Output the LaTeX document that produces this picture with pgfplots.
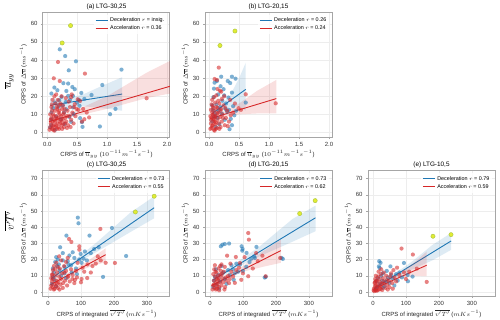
\documentclass[border=0pt]{standalone}
\usepackage{pgfplots}
\pgfplotsset{compat=1.18}
\usepackage{fontspec}
\setmainfont{Liberation Sans}
\definecolor{tabblue}{HTML}{1F77B4}
\definecolor{tabred}{HTML}{D62728}
\definecolor{ylw}{RGB}{226,236,50}
\definecolor{ylwedge}{RGB}{175,200,70}
\pgfplotsset{
  panel/.style={scale only axis, width=127pt, height=125pt,
    grid=major, grid style={gray!14, line width=0.4pt},
    axis line style={gray!70, line width=1pt},
    tick style={gray!70, line width=0.5pt},
    tick align=outside, major tick length=2pt,
    xtick pos=bottom, ytick pos=left,
    /pgf/number format/assume math mode=true,
    tick label style={font=\fontsize{6}{7}\selectfont, text=black!80},
    label style={font=\fontsize{6}{7}\selectfont, text=black!85},
    title style={font=\fontsize{6.4}{7}\selectfont, yshift=-7pt},
    xlabel style={yshift=3pt},
    ylabel style={yshift=-3pt},
    legend style={draw=none, fill=white, fill opacity=0.8, text opacity=1,
      font=\fontsize{5.4}{6}\selectfont, at={(0.98,0.98)}, anchor=north east,
      row sep=-1.5pt, inner sep=1pt},
    legend cell align=left,
    legend image code/.code={\draw[##1, line width=0.9pt] (0pt,0pt) -- (12pt,0pt);},
  },
  toprow/.style={panel, xmin=-0.07, xmax=2.05, ymin=-2.5, ymax=66.5,
    xtick={0,0.5,1,1.5,2}, xticklabels={0.0,0.5,1.0,1.5,2.0},
    ytick={0,10,...,60},
    xlabel={CRPS of $\overline{u}_{yy}$ ($10^{-11} m^{-1} s^{-1}$)},
    ylabel={CRPS of $\Delta\overline{u}$ ($ms^{-1}$)}},
  botrow/.style={panel, height=125.5pt, xmin=-15, xmax=370, ymin=-2.5, ymax=75,
    xtick={0,100,200,300}, ytick={0,10,...,70},
    xlabel={CRPS of integrated $\overline{v'T'}$ ($mKs^{-1}$)},
    ylabel={CRPS of $\Delta\overline{u}$ ($ms^{-1}$)}},
  bpt/.style={only marks, mark=*, mark size=2.1pt, color=tabblue, mark options={fill=tabblue, draw=tabblue, fill opacity=0.58, draw opacity=0}, forget plot},
  rpt/.style={only marks, mark=*, mark size=2.1pt, color=tabred, mark options={fill=tabred, draw=tabred, fill opacity=0.58, draw opacity=0}, forget plot},
  ypt/.style={only marks, mark=*, mark size=2.1pt, color=ylwedge, mark options={draw=ylwedge, fill=ylw, line width=0.5pt}, forget plot},
  bband/.style={fill=tabblue, fill opacity=0.15, draw=none, forget plot},
  rband/.style={fill=tabred, fill opacity=0.15, draw=none, forget plot},
  bline/.style={tabblue, line width=0.9pt, mark=none},
  rline/.style={tabred, line width=0.9pt, mark=none},
}
\begin{document}
\begin{tikzpicture}[x=1pt,y=1pt]
\useasboundingbox (0,0) rectangle (500,319);
\node[rotate=90, font=\fontsize{10.5}{11}\selectfont] at (9,238) {$\overline{u}_{yy}$};
\node[rotate=90, font=\fontsize{10.5}{11}\selectfont] at (9,98) {$\overline{v'T'}$};

% ---------------- (a)
\begin{axis}[toprow, at={(43pt,182pt)}, anchor=south west, title={(a) LTG-30,25}]
\addplot[bpt] table {
0.21 45.9
0.30 42.2
0.48 39.3
0.36 34.3
1.24 34.7
0.92 26.2
0.35 27.0
0.27 27.2
0.12 24.8
0.17 23.3
0.42 25.1
0.07 21.5
0.32 22.9
0.57 21.8
0.74 20.7
0.43 20.2
0.24 19.6
0.38 18.0
0.53 18.0
0.50 16.5
1.14 13.0
1.05 10.1
0.88 3.3
0.59 3.1
0.58 5.7
0.43 13.8
0.37 8.6
0.28 11.0
0.07 11.0
0.13 16.5
0.15 8.8
0.23 7.3
0.40 5.9
0.05 2.8
0.07 4.0
0.32 12.8
0.19 14.3
0.35 20.2
0.46 23.9
0.54 14.7
0.29 4.6
0.13 1.5
0.55 7.9
0.26 15.0
0.07 7.3
0.62 18.5
0.20 17.8
0.10 13.5
0.44 10.2
0.31 16.8
};
\addplot[bband] coordinates {(0.05,19.0) (0.3,18.5) (0.6,21) (0.9,25.5) (1.25,30.5) (1.25,12.0) (0.9,13.5) (0.6,14.5) (0.3,14.0) (0.05,11.4)} -- cycle;
\addplot[bline] coordinates {(0.05,15.0) (1.25,21.2)};
\addlegendentry{Deceleration $r$ = insig.}
\addplot[rpt] table {
0.18 38.9
0.11 29.9
0.63 32.5
0.21 28.4
1.66 18.9
0.70 8.3
0.62 7.3
0.52 12.5
0.55 17.4
0.46 15.6
0.51 18.3
0.40 19.5
0.05 3.0
0.06 5.0
0.07 8.0
0.08 2.0
0.09 6.0
0.10 10.0
0.11 4.0
0.12 7.0
0.13 12.0
0.14 3.0
0.15 9.0
0.16 14.0
0.17 5.0
0.18 8.0
0.19 11.0
0.20 2.0
0.21 6.0
0.22 16.0
0.23 9.0
0.24 4.0
0.25 13.0
0.26 7.0
0.27 10.0
0.28 3.0
0.30 8.0
0.31 19.0
0.32 6.0
0.34 12.0
0.35 4.0
0.37 9.0
0.38 14.0
0.40 7.0
0.42 11.0
0.44 5.0
0.47 9.0
0.49 13.0
0.05 10.0
0.07 14.0
0.09 18.0
0.10 1.5
0.12 20.0
0.14 16.0
0.16 2.0
0.18 18.0
0.20 12.0
0.22 5.0
0.24 20.0
0.26 15.0
0.28 11.0
0.30 5.0
0.33 9.0
0.36 17.0
0.39 3.0
0.41 21.0
0.45 14.0
0.58 6.0
0.60 13.0
0.66 11.0
0.06 7.0
0.08 12.0
0.11 9.0
0.13 6.0
0.15 4.0
0.17 13.0
0.19 3.0
0.21 10.0
0.23 7.0
0.25 2.0
0.27 5.0
0.29 13.0
0.04 1.5
0.09 3.5
0.12 1.0
0.16 7.5
0.20 15.0
0.08 15.5
0.15 21.0
0.33 2.5
};
\addplot[rband] coordinates {(0.03,8.0) (0.25,9.5) (0.5,12.5) (1.0,20) (1.66,33) (2.05,39.5) (2.05,21.5) (1.66,19) (1.0,13) (0.5,9.2) (0.25,7.5) (0.03,4.0)} -- cycle;
\addplot[rline] coordinates {(0.03,6.0) (2.05,25.5)};
\addlegendentry{Acceleration $r$ = 0.36}
\addplot[ypt] coordinates {(0.39,59.0) (0.25,49.4)};
\end{axis}

% ---------------- (b)
\begin{axis}[toprow, at={(205pt,182pt)}, anchor=south west, title={(b) LTG-20,15}]
\addplot[bpt] table {
0.38 30.8
0.44 29.7
0.09 27.5
0.13 28.4
0.20 30.8
0.35 27.3
0.31 28.4
0.08 24.2
0.24 23.9
0.38 22.0
0.61 16.5
0.32 19.3
0.38 4.0
0.34 1.8
0.05 15.0
0.12 15.5
0.18 14.0
0.27 13.0
0.22 17.5
0.15 21.0
0.07 19.5
0.30 11.5
0.42 9.5
0.26 7.0
0.10 10.0
0.05 6.0
0.17 4.5
0.45 12.0
0.28 16.0
0.06 12.5
0.14 8.0
0.21 10.5
0.36 7.5
0.11 3.0
0.25 20.5
0.40 14.5
0.19 25.5
0.33 12.5
0.08 8.5
0.16 12.0
};
\addplot[bband] coordinates {(0.05,13.5) (0.2,15.0) (0.35,20.5) (0.5,30) (0.61,38.5) (0.61,12.0) (0.5,14.5) (0.35,14.0) (0.2,12.0) (0.05,8.0)} -- cycle;
\addplot[bline] coordinates {(0.05,10.5) (0.61,23.8)};
\addlegendentry{Deceleration $r$ = 0.26}
\addplot[rpt] table {
0.16 35.8
0.13 29.0
0.61 21.1
1.11 16.1
0.49 13.4
0.53 12.5
0.09 29.5
0.20 22.5
0.25 20.0
0.14 24.0
0.02 2.0
0.03 5.0
0.04 8.0
0.05 3.5
0.06 10.0
0.07 6.5
0.08 1.5
0.09 12.0
0.10 4.5
0.11 9.0
0.12 14.0
0.13 2.5
0.14 7.0
0.15 11.0
0.16 5.0
0.17 16.0
0.18 8.5
0.19 3.0
0.20 13.0
0.21 6.0
0.22 10.0
0.24 15.0
0.26 4.0
0.28 8.0
0.30 12.0
0.33 6.0
0.36 9.5
0.02 9.0
0.03 12.5
0.04 15.5
0.05 18.0
0.06 4.0
0.07 13.5
0.08 7.5
0.09 1.0
0.10 16.5
0.11 5.5
0.12 20.5
0.13 10.5
0.15 17.5
0.17 2.0
0.19 12.0
0.21 18.5
0.23 8.0
0.27 13.5
0.31 3.5
0.03 7.0
0.05 11.0
0.07 9.5
0.09 6.0
0.11 2.0
0.04 2.5
0.06 14.5
0.08 19.5
0.10 8.5
0.14 13.5
0.18 23.0
0.40 11.0
0.43 16.0
0.35 18.0
};
\addplot[rband] coordinates {(0.02,9.5) (0.2,11) (0.5,16) (0.8,23) (1.12,29) (1.12,10.5) (0.8,10.5) (0.5,10) (0.2,8.5) (0.02,6.3)} -- cycle;
\addplot[rline] coordinates {(0.02,7.7) (1.12,18.7)};
\addlegendentry{Acceleration $r$ = 0.24}
\addplot[ypt] coordinates {(0.18,48.0) (0.43,56.0)};
\end{axis}

% ---------------- (c)
\begin{axis}[botrow, at={(43pt,23pt)}, anchor=south west, title={(c) LTG-30,25}]
\addplot[bpt] table {
90.5 45.9
92.6 42.4
194 39.5
126 34.8
56 34.8
37 27.6
154 27.6
237 22.2
167 9.3
112 25.0
108 20.5
99 23.5
80 21.0
65 22.5
45 19.5
30 20.0
25 21.5
22 18.5
28 16.0
18 12.0
15 9.0
35 13.5
50 15.5
62 17.0
72 12.0
85 14.5
95 20.0
102 18.0
118 19.5
20 7.5
40 10.0
12 5.0
55 8.5
70 16.5
88 11.0
130 24.0
140 26.5
45 24.0
33 17.0
60 19.0
75 24.5
25 3.5
15 14.5
50 11.5
};
\addplot[bband] coordinates {(10,10.5) (80,19.5) (150,31) (250,49) (322,59) (322,45.5) (250,37) (150,25) (80,17) (10,6.5)} -- cycle;
\addplot[bline] coordinates {(10,8.3) (322,52.0)};
\addlegendentry{Deceleration $r$ = 0.73}
\addplot[rpt] table {
159 38.9
64 32.7
71 30.9
95 28.2
95 26.1
34 22.0
151 22.0
203 17.9
119 8.6
102 8.0
175 18.0
160 19.5
145 17.5
130 12.0
110 12.5
85 13.0
75 10.5
60 9.0
8 2.0
10 4.0
12 6.5
14 3.0
16 8.0
18 1.5
20 5.0
22 10.0
24 3.5
26 7.0
28 12.0
30 2.5
32 6.0
34 9.5
36 14.5
38 4.5
40 8.0
43 11.5
46 5.5
49 16.0
52 7.0
55 13.0
58 4.0
62 10.0
66 6.5
70 14.0
74 8.0
80 5.5
88 9.0
12 10.5
15 13.5
18 16.0
20 2.0
25 18.0
30 15.5
10 8.5
14 11.0
40 19.5
45 2.5
50 12.0
35 1.5
28 5.0
22 14.0
60 21.0
55 18.5
105 15.0
120 17.0
135 16.0
90 18.0
100 6.0
82 7.5
};
\addplot[rband] coordinates {(8,6) (60,11.5) (120,19) (175,27) (175,18.5) (120,15) (60,9.5) (8,3)} -- cycle;
\addplot[rline] coordinates {(8,4.5) (175,23.0)};
\addlegendentry{Acceleration $r$ = 0.55}
\addplot[ypt] coordinates {(322,59.1) (265,49.4)};
\end{axis}

% ---------------- (d)
\begin{axis}[botrow, at={(205pt,23pt)}, anchor=south west, title={(d) LTG-20,15}]
\addplot[bpt] table {
33 28.2
38 29.2
45 29.6
58 29.9
96 28.2
99 26.6
98 25.5
111 24.1
141 27.8
134 22.0
136 21.0
221 20.4
217 21.0
169 9.3
166 8.9
91 16.9
80 17.5
70 14.0
55 13.5
40 12.0
25 10.5
15 9.5
12 7.0
20 4.5
30 6.5
45 8.0
60 10.5
75 11.5
100 13.0
120 18.5
65 16.5
85 12.5
18 14.0
35 16.0
50 5.0
110 15.5
10 3.0
28 2.0
72 7.5
125 20.5
};
\addplot[bband] coordinates {(10,9.5) (70,16.5) (150,28) (250,45) (320,53.3) (320,37.5) (250,31) (150,22) (70,14) (10,5.5)} -- cycle;
\addplot[bline] coordinates {(10,7.5) (320,45.8)};
\addlegendentry{Deceleration $r$ = 0.73}
\addplot[rpt] table {
116 36.4
118 32.3
52 22.4
78.5 21.6
91 17.9
159 22.4
213 21.0
169 9.7
116 9.7
75.5 5.6
35 17.0
130 14.5
145 19.0
100 11.5
88 15.0
65 12.5
60 8.0
8 1.5
10 4.0
12 7.0
14 2.5
16 9.5
18 5.5
20 12.0
22 3.5
24 7.5
26 14.5
28 1.0
30 6.0
32 10.5
35 4.0
38 8.5
42 12.5
46 3.0
50 7.0
55 10.0
10 11.0
13 14.0
15 16.5
18 1.5
20 8.0
23 5.0
25 10.0
28 3.0
33 13.0
40 6.0
45 15.5
48 9.0
58 5.5
70 9.5
12 4.5
17 12.5
21 2.0
27 8.5
31 16.0
36 11.0
44 1.5
80 13.5
95 7.5
105 21.5
140 24.0
62 17.5
};
\addplot[rband] coordinates {(5,5.3) (50,10) (100,16) (160,25) (215,32.3) (215,18) (160,15.5) (100,12.5) (50,8) (5,2.8)} -- cycle;
\addplot[rline] coordinates {(5,4.0) (215,25.5)};
\addlegendentry{Acceleration $r$ = 0.62}
\addplot[ypt] coordinates {(272,48.4) (319,56.4)};
\end{axis}

% ---------------- (e)
\begin{axis}[botrow, at={(368pt,23pt)}, anchor=south west, title={(e) LTG-10,5}]
\addplot[bpt] table {
19 19.0
23 18.0
20 14.8
18 15.8
53 15.8
94 17.9
106 6.6
120 9.5
105 10.5
80 12.0
70 11.0
60 8.5
45 9.0
38 6.5
30 11.5
35 3.5
28 7.0
22 5.0
15 8.5
12 3.0
8 1.5
25 10.0
50 5.5
65 4.0
42 13.0
55 10.5
30 2.5
88 9.0
10 6.5
75 7.0
};
\addplot[bband] coordinates {(5,4) (60,10.5) (120,19) (180,29) (237,36.4) (237,26) (180,19.5) (120,14) (60,8.5) (5,1)} -- cycle;
\addplot[bline] coordinates {(5,2.5) (237,31.5)};
\addlegendentry{Deceleration $r$ = 0.79}
\addplot[rpt] table {
86.6 26.8
121 23.1
133 14.4
163 6.2
94 12.1
73 15.0
65 9.0
55 11.5
48 7.0
40 10.0
35 5.0
30 8.5
26 3.0
22 6.0
18 1.5
15 4.5
12 2.5
10 7.0
8 1.0
6 3.5
4 0.5
3 2.0
5 5.5
7 8.0
9 4.0
11 0.8
13 6.5
16 9.5
20 3.5
24 11.0
28 1.2
32 6.5
38 2.5
44 4.5
50 3.0
58 5.5
62 13.5
70 6.5
80 10.5
100 8.0
110 12.5
14 1.0
19 8.0
23 1.8
27 5.0
33 12.0
42 7.5
52 9.5
17 12.5
25 14.0
45 1.5
60 2.0
2 1.0
6 6.0
9 10.0
};
\addplot[rband] coordinates {(3,3) (40,6.5) (90,12.5) (130,19) (163,25) (163,9.7) (130,10) (90,8.5) (40,5) (3,1)} -- cycle;
\addplot[rline] coordinates {(3,2.0) (163,16.5)};
\addlegendentry{Acceleration $r$ = 0.59}
\addplot[ypt] coordinates {(182,34.4) (236.7,35.4)};
\end{axis}
\end{tikzpicture}
\end{document}
